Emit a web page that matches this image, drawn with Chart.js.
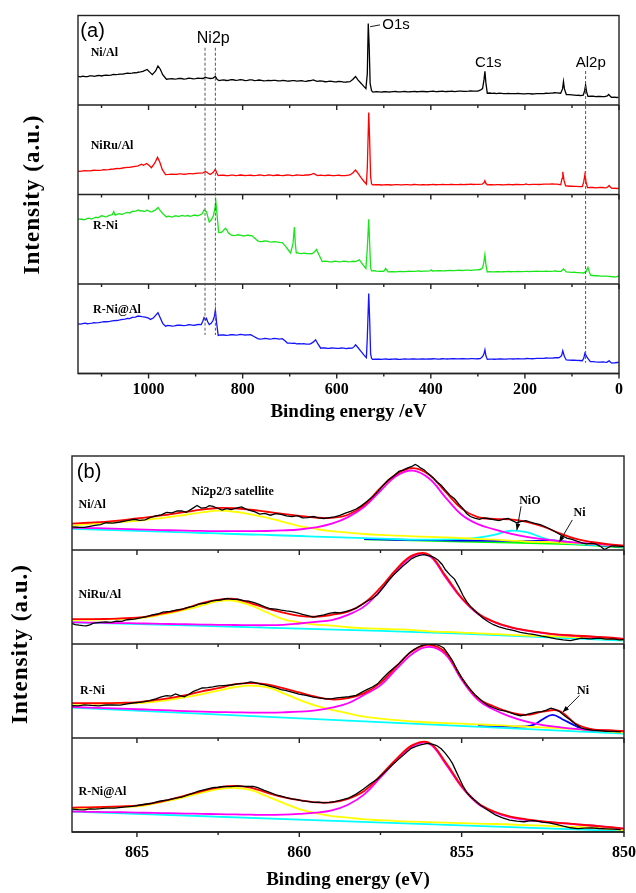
<!DOCTYPE html>
<html>
<head>
<meta charset="utf-8">
<script src="https://cdn.jsdelivr.net/npm/chart.js@4.4.1/dist/chart.umd.min.js"></script>
<style>
  html, body { margin: 0; padding: 0; background: #fff; }
  #wrap { position: relative; width: 636px; height: 893px; }
  canvas { position: absolute; left: 0; }
  #surveyChart { top: 0; }
  #ni2pChart { top: 440px; }
</style>
</head>
<body>
<div id="wrap">
  <canvas id="surveyChart" width="636" height="440"></canvas>
  <canvas id="ni2pChart" width="636" height="453"></canvas>
</div>
<script>
// ---- (a) survey spectra: [binding energy eV, intensity in % of its strip] ----
const surveyNiAl = [
  [1150,31.9],[1145,31.5],[1140,32.3],[1135,31.6],[1130,31.8],[1125,32.5],[1120,32.6],[1115,32.1],[1110,32.7],[1105,33.1],
  [1100,32.4],[1095,33],[1090,33.3],[1085,33],[1080,33.5],[1075,34.1],[1070,33.9],[1065,34.2],[1060,34.6],[1055,34.4],
  [1050,35],[1045,35.6],[1040,35.3],[1035,35.7],[1030,36.2],[1026,35.9],[1022,36.6],[1017,36.9],[1012,37.5],[1003,39.7],
  [997,36.5],[992,33.9],[985,38],[980,43.6],[975,40],[970,33.9],[962,28.8],[956,29.3],[950,29.5],[945,29],
  [940,29.1],[935,29.7],[930,29.6],[925,29],[920,29.2],[915,29.9],[910,29.8],[905,29.2],[900,29.4],[895,30],
  [890,29.8],[884,29.6],[880,31.1],[875,30.2],[869,29.6],[863,30],[858,31.9],[854,28.5],[850,27.2],[845,27.9],
  [840,28],[835,27.4],[830,27.6],[825,28.3],[820,28.2],[815,27.6],[810,27.8],[805,28.3],[800,28],[795,27.3],
  [790,27.5],[785,28.1],[780,28],[775,27.2],[770,27.4],[765,27.9],[760,27.6],[755,27],[750,27.2],[745,27.6],
  [740,27.2],[735,27.6],[730,27.5],[725,26.9],[720,27],[715,27.5],[710,27.3],[705,26.7],[700,26.8],[695,27.3],
  [690,27.2],[685,26.6],[680,26.9],[675,27.2],[670,26.7],[665,26.5],[660,27.1],[655,27.3],[650,28],[642,26.5],
  [636,26.9],[630,26.6],[625,26],[620,26.2],[615,26.6],[610,26.4],[605,25.9],[600,26],[595,26.4],[590,26.1],
  [585,25.6],[580,25.7],[572,26],[566,28.5],[560,31.9],[555,28],[548,24.1],[542,20.5],[538,18.3],[535,35],
  [533,91],[531,65],[529,24],[526,16],[523,14.4],[516,14.9],[510,14.6],[505,14.4],[500,14.8],[495,15],
  [490,14.5],[485,14.6],[480,14.9],[475,15.1],[470,14.7],[465,14.6],[460,15],[455,15.1],[450,14.7],[445,14.8],
  [440,15],[435,15.2],[430,14.8],[425,14.9],[420,15.1],[415,15.3],[410,14.8],[405,14.9],[400,15.2],[395,15.4],
  [390,15],[385,15.1],[380,15.3],[375,15.5],[370,15],[365,15.1],[360,15.2],[355,15.5],[350,15],[345,15.2],
  [340,15.4],[335,15.6],[330,15.2],[325,15.3],[320,15.5],[315,15.8],[310,15.4],[305,15.5],[300,15.6],[295,16.5],
  [290,18.3],[287,28],[285,37.7],[283,25],[280,13.2],[275,13.4],[270,13],[265,13.1],[260,12.8],[255,13.2],
  [250,13],[245,12.8],[240,12.7],[235,13],[230,12.8],[225,12.6],[220,12.6],[215,12.9],[210,12.7],[205,12.4],
  [200,12.5],[195,12.8],[190,12.6],[185,12.3],[180,12.4],[175,12.8],[170,12.6],[165,12.7],[160,12.8],[155,13.1],
  [150,13],[145,13.2],[140,13.4],[136,13.8],[132,13.6],[124,13.2],[120,18],[118,26.1],[116,18],[112,11.7],
  [106,11.5],[100,11.2],[95,11],[90,10.8],[86,10.9],[82,10.5],[76,11],[73,16],[71,22.2],[69,15],
  [66,9.7],[60,10],[55,9.8],[50,9.4],[45,9.5],[40,9.6],[35,9.3],[30,9.3],[25,10.2],[22,11.7],
  [19,10],[16,8.6],[10,8.8],[5,8.4],[1,8.6]
];
const surveyNiRuAl = [
  [1150,26.2],[1145,25.8],[1140,26.4],[1135,26.7],[1130,26.3],[1125,26.5],[1120,26.8],[1115,27.2],[1111,26.9],[1105,27],
  [1100,27.3],[1095,27.8],[1090,27.6],[1085,27.8],[1080,28.2],[1074,28.5],[1067,29.2],[1061,29],[1055,29.6],[1050,30.1],
  [1045,30.3],[1040,30.2],[1035,30.8],[1028,31.5],[1022,31.9],[1015,33.8],[1011,32.6],[1004,34.6],[998,32],[994,30],
  [987,35],[981,41.5],[976,36],[971,28],[964,22.3],[957,22.5],[950,22.8],[945,22.4],[940,22.6],[935,23.1],
  [930,23],[925,22.6],[920,22.8],[915,23.3],[910,23.4],[905,23],[900,23.5],[895,23.9],[890,23.8],[884,24.2],
  [879,25.8],[874,24],[869,22.3],[863,24.5],[858,28.1],[855,24],[852,21.2],[846,21.7],[840,21.5],[835,21.1],
  [830,21.2],[825,21.7],[820,21.6],[815,21.1],[810,21.3],[805,21.8],[800,21.5],[795,21.1],[790,21.4],[783,21.5],
  [777,21.1],[770,21.3],[765,21.8],[760,21.6],[755,21.2],[750,21.4],[745,21.9],[740,21.7],[735,21.2],[730,21.5],
  [725,21.8],[720,21.4],[715,21.1],[709,21.5],[704,21.9],[700,21.6],[695,21.2],[690,21.3],[685,21.8],[680,21.7],
  [675,21.3],[670,21.5],[665,22],[660,21.8],[654,22.5],[649,23.5],[644,22],[640,21.2],[635,21.6],[630,21.3],
  [625,21],[620,21.5],[615,21.6],[610,21.2],[605,21],[600,21.4],[595,21.5],[590,21.2],[582,21.2],[572,21.8],
  [566,24],[560,27.3],[555,24],[548,18.5],[542,14.5],[537,11.5],[535,30],[532,91.5],[530,60],[528,20],
  [526,12],[524,10.8],[517,11.1],[510,10.9],[505,10.6],[500,10.7],[495,11],[490,10.9],[485,10.6],[480,10.8],
  [475,11.1],[470,11],[465,10.7],[460,10.8],[455,11.1],[450,11],[445,10.8],[440,10.9],[435,11.2],[430,11.1],
  [425,10.8],[420,10.9],[415,11.1],[410,10.8],[405,10.9],[400,11],[395,11.2],[390,10.9],[385,11],[380,11.1],
  [375,11.3],[370,11],[365,11.1],[360,11.2],[355,11.4],[350,11],[345,11.1],[340,11.2],[335,11.4],[330,11.1],
  [325,11.2],[320,11.3],[315,11.5],[310,11.2],[305,11.3],[300,11.4],[291,11.5],[287,13],[285,15.4],[283,12.5],
  [280,10.8],[275,11],[270,10.9],[265,10.8],[260,11],[255,11.1],[250,10.9],[245,10.8],[240,11.1],[235,11.2],
  [230,11],[225,10.9],[220,11.2],[215,11.3],[210,11.1],[205,11],[200,11.3],[198,11.8],[195,11.2],[190,11],
  [185,11.2],[180,11.4],[175,11.3],[170,11.2],[165,11.4],[160,11.6],[155,11.6],[148,11.7],[142,11.9],[137,11.7],
  [132,11.5],[124,10.8],[121,18],[119.5,25.4],[117,16],[113.5,9.6],[109,9.5],[105,9.2],[100,9.3],[95,9],
  [90,9.1],[85,8.9],[78,8.8],[75,14],[72.5,22.3],[70,14],[67,7.7],[61,8],[55,7.8],[50,7.5],
  [45,7.7],[40,7.9],[35,7.8],[30,7.5],[26,7.7],[23,9],[21,10],[18,8],[15,6.9],[8,7],
  [4,6.7],[0,6.9]
];
const surveyRNi = [
  [1150,73],[1146,72.2],[1142,72.6],[1138,71.8],[1134,72.3],[1130,73.4],[1126,73.5],[1122,72.6],[1118,73.2],[1115,74],
  [1112,74.6],[1108,74],[1104,75],[1100,76.2],[1096,75.8],[1092,75],[1088,75.4],[1085,76.5],[1082,76.9],[1077,77.5],
  [1074,80.8],[1071,77],[1067,77.7],[1063,78.6],[1060,78.2],[1056,77.8],[1052,78.8],[1048,79.6],[1044,80],[1040,79.4],
  [1036,80.6],[1033,81.4],[1030,81.2],[1026,81.8],[1022,82.7],[1018,81.6],[1014,82],[1010,81],[1007,81.5],[1003,82.4],
  [1000,81.8],[996,80.6],[992,80.8],[986,82.5],[980,85.4],[975,82],[970,78.8],[962,75],[958,75.9],[955,75.6],
  [951,74.8],[948,75.2],[944,76.1],[940,76],[936,75.4],[932,76.2],[928,76.6],[924,75.8],[920,76.2],[916,76.5],
  [912,75.6],[908,76.2],[904,77],[900,76.8],[896,76.2],[892,76.9],[886,78.5],[882,82.7],[877,80.8],[874,75],
  [871,69.2],[866,72],[862,76.9],[859,84],[857,92.3],[854,75],[851,57.7],[847,57.5],[843,58.5],[839,61],
  [836,62.3],[830,57],[824,54.6],[819,54.1],[815,54.3],[810,55],[805,54.6],[800,53.9],[795,53.8],[790,54.6],
  [785,54.2],[780,53.8],[774,51],[768,48.1],[763,47.3],[758,47.5],[753,48.2],[748,47.8],[743,47],[738,46.8],
  [733,47.4],[728,47],[722,46.4],[716,46.2],[709,42.3],[703,38],[698,34.6],[693,45],[690,63.5],[688,45],
  [686,34.6],[683,34.9],[680,34.2],[675,34],[670,34.4],[665,34.1],[660,33.9],[653,33.8],[648,35.5],[643,38.5],
  [638,33],[631,25],[625,25.6],[620,25.3],[615,24.7],[610,24.8],[605,25.4],[600,25.2],[595,24.7],[590,24.9],
  [585,25.5],[580,25.3],[575,24.8],[570,25],[565,25.4],[560,25],[552,26.9],[545,22],[538,17.3],[535,40],
  [532,72.3],[530,45],[528,18],[526,14.6],[520,14.8],[515,14.4],[510,14.1],[505,14.3],[500,14.2],[496,17.3],
  [491,13.5],[485,13.9],[480,13.7],[475,13.5],[470,13.9],[465,14.1],[460,13.8],[455,13.9],[450,14.1],[445,14.3],
  [440,14],[435,14.1],[430,14.3],[425,14.5],[420,14.2],[415,14.3],[410,14.4],[402,14.6],[399,15.8],[396,14.5],
  [390,14.6],[385,14.8],[380,15],[375,14.7],[370,14.8],[365,15],[360,15.2],[355,14.9],[350,15],[345,15.2],
  [340,15.4],[335,15.1],[330,15.2],[325,15.4],[320,15.6],[315,15.3],[310,15.5],[305,15.7],[300,15.9],[295,16.2],
  [290,18],[287,25],[285,32.7],[283,22],[280,13.5],[275,13.8],[270,13.6],[265,13.5],[260,13.7],[255,13.9],
  [250,13.6],[245,13.7],[240,13.8],[235,14],[230,13.7],[225,13.8],[220,13.9],[215,14.1],[210,13.8],[205,13.9],
  [200,14],[195,14.2],[190,13.9],[185,14],[180,14.1],[175,14.3],[170,14],[165,14.1],[160,14.2],[155,14.4],
  [150,14.1],[145,14.2],[140,14.3],[135,14.5],[130,14.2],[123,14.2],[118,16.9],[112,13.5],[106,13.3],[100,13],
  [95,13.1],[90,12.7],[85,12.6],[80,12.4],[75,12.3],[70,14],[66,18.5],[63,13],[60,9.6],[55,9.5],
  [50,9.2],[45,9.3],[40,8.9],[35,8.8],[30,8.7],[26,8.9],[22.5,8.5],[18,8.4],[15,8],[11,8.2],
  [7.6,7.7],[3,8.5],[0,9.6]
];
const surveyRNiAl = [
  [1150,55.5],[1145,55.2],[1140,55.8],[1135,56.2],[1130,55.6],[1125,55.9],[1120,56.3],[1116,56.9],[1112,56.6],[1106,56.8],
  [1100,57.3],[1095,57.9],[1090,57.8],[1085,57.9],[1080,58.4],[1074,59.1],[1067,59.2],[1061,59.8],[1055,60.5],[1050,60.8],
  [1045,61.6],[1040,61.4],[1035,62.6],[1028,63.1],[1022,64.2],[1014,63.5],[1007,63],[1000,61.8],[996,60.4],[990,62],
  [985,65],[980,67.9],[975,62],[970,56],[964,52.8],[960,53.6],[955,53.4],[950,52.9],[945,53.2],[939,53.9],
  [933,54],[926,53.5],[920,53.8],[915,54.5],[910,54.3],[905,53.8],[900,54.2],[894,54.9],[888,54.7],[885,58],
  [882,62.3],[879,60],[877,61.5],[874,57.5],[871,54.7],[867,56],[863,59.2],[860,64],[858,70.6],[855,55],
  [852,42.6],[846,43.2],[840,43],[835,42.6],[830,42.8],[825,43.3],[820,43.4],[815,42.9],[810,43.1],[805,43.6],
  [800,43.5],[795,43],[790,43.2],[783,43.4],[775,41],[768,38.9],[763,38.4],[758,38.6],[753,39.2],[748,39],
  [743,38.5],[738,38.7],[733,39.2],[728,38.9],[722,38.5],[716,38.9],[710,36.5],[705,34],[700,33.9],[695,33.6],
  [690,33.9],[685,33.2],[680,33.4],[675,33],[670,33.3],[665,32.9],[657,32.8],[650,35],[645,37.7],[640,33],
  [634,28.3],[630,28.7],[625,28.5],[620,28],[615,28.2],[610,28.6],[605,28.4],[600,28],[595,28.1],[590,28.5],
  [585,28.3],[580,27.9],[575,28.2],[567,28.3],[563,30],[560,32.1],[555,29],[548,24.5],[542,20.5],[537,17.7],
  [535,40],[532,89.4],[530,60],[528,22],[526,17],[524,15.8],[517,16.1],[510,15.9],[505,15.7],[500,16],
  [495,16.2],[490,15.8],[485,15.9],[480,16],[475,16.2],[470,15.9],[465,15.8],[460,16.1],[455,16.3],[450,16],
  [445,16],[440,16.2],[435,16.4],[430,16.1],[425,16],[420,16.2],[415,16.4],[410,16.1],[405,16.2],[399,16.2],
  [395,16.5],[390,16.3],[385,16.1],[380,16.2],[375,16.5],[370,16.4],[365,16.2],[360,16.3],[355,16.6],[350,16.5],
  [345,16.3],[340,16.4],[335,16.7],[330,16.5],[325,16.3],[320,16.4],[315,16.7],[310,16.6],[305,16.4],[300,16.5],
  [295,16.6],[290,19],[287,22],[285,26.4],[283,20],[280,15.8],[275,16.1],[270,16],[265,15.9],[260,16.1],
  [255,16.3],[250,16.2],[245,16],[240,16.1],[235,16.4],[230,16.3],[225,16.2],[220,16.4],[215,16.6],[210,16.3],
  [205,16.4],[200,16.5],[195,16.8],[190,16.6],[185,16.5],[180,16.7],[175,17],[170,16.8],[165,16.8],[160,17],
  [155,17.3],[150,17.1],[145,17.1],[140,17.3],[135,17.7],[130,17.6],[127,17.7],[122,20],[119.5,25.3],[116,19],
  [112,15.1],[106,15],[100,14.8],[95,14.9],[90,14.6],[84,14.5],[78,14.3],[75,17],[72.5,22.6],[68.7,18.9],
  [65,16],[61,13.2],[55,13.2],[50,12.9],[45,12.8],[40,12.7],[35,12.9],[30,12.6],[26,12.5],[23,13.5],
  [21,14.3],[18,12.5],[15,11.7],[11,11.9],[8,12],[4,12.3],[0,12.5]
];

// ---- (b) Ni 2p fits: shared energy grid, one array per curve ----
const fitEnergy = [867,866.5,866,865.5,865,864.5,864,863.5,863,862.5,862,861.5,861,860.5,860,859.5,859,858.5,
  858,857.5,857,856.5,856,855.5,855,854.5,854,853.5,853,852.5,852,851.5,851,850.5,850];

const niAlEnvelope  = [28,29,30,31.5,33.5,35.5,38,40.5,43,44.7,44.4,42.8,40.7,38.5,36.4,34.5,34.2,37.5,48,66,81,87,80,62,44,35,33,32.5,30,25,18,12,8.5,6.2,4.7];
const niAlMain      = [23.6,23.3,23,22.5,22,21.5,21,20.6,20.3,20,20,20,20.2,20.8,21.8,24,28,35,46,63,79,84.5,76,56,37.5,27.5,22,17.5,14,11.5,9.5,8,6.8,5.5,4.4];
const niAlSatellite = [26,27.5,29,30,31,33,35,37.5,40,41.8,40.7,38,34.5,30,25.5,22.5,20,18.5,17,16,15.3,14.6,14,13.4,12.7,11.8,11,10,9,8.5,8,7.2,6.5,5,3.6];
const niAlNiO       = [22.5,22,21.4,20.9,20.3,19.8,19.2,18.7,18.1,17.6,17,16.5,16,15.4,14.9,14.3,13.8,13.2,12.7,12.1,11.6,11.1,11,11.2,11.8,13.2,16,20.5,19,13,8.4,6.5,5.5,4.6,3.6];
const niAlMetal     = [[858,11.6],[857,10.9],[856,10.5],[855,10.1],[854,9.8],[853,9.5],[852.5,10],[852.2,10.2],[851.8,9],[851.5,7],[851,5.5],[850.5,4.4],[850,3.4]];
const niAlBaseline  = [[858,11.4],[855,9],[852,6.5],[851,5],[850.5,3.8],[850,2.6]];
const niAlRaw = [
  [867,24.7],[866.8,24.2],[866.62,24],[866.45,25.1],[866.29,26.2],[866.12,27.1],[865.96,29],[865.74,28.6],[865.52,29.8],[865.3,31.2],
  [865.08,32.7],[864.92,31.6],[864.75,32],[864.58,34.6],[864.42,36.4],[864.25,37.4],[864.09,40],[863.92,39.6],[863.76,41.5],[863.62,41.7],
  [863.48,40],[863.32,43.5],[863.15,47.3],[863.02,44.6],[862.88,45],[862.77,47.2],[862.66,46.5],[862.52,44.4],[862.38,42.5],[862.24,44],
  [862.1,43],[861.94,44.6],[861.78,45.8],[861.64,43.4],[861.5,41.8],[861.36,40.6],[861.22,38.2],[861.06,38.9],[860.89,37],[860.72,38.6],
  [860.56,37.8],[860.4,36.2],[860.23,35.6],[860.06,36.5],[859.9,34.2],[859.74,34.4],[859.57,35.6],[859.4,34.1],[859.24,33.5],[859.08,34.5],
  [858.91,35.3],[858.75,36.8],[858.58,39.3],[858.42,41],[858.25,43.6],[858.08,47.2],[857.92,51.6],[857.75,56.5],[857.59,61.8],[857.42,68.6],
  [857.26,74.5],[857.1,78.4],[856.93,83.6],[856.8,84.9],[856.66,87.3],[856.55,88.6],[856.43,91],[856.35,89.6],[856.27,87.3],[856.16,85.4],
  [856.05,81.8],[855.9,77.5],[855.77,72.7],[855.63,68.9],[855.5,63.6],[855.36,58.2],[855.22,54.5],[855.08,48.4],[854.95,43.6],[854.84,38.6],
  [854.73,35.6],[854.6,34],[854.45,32.7],[854.32,34.2],[854.18,33.5],[854.02,32.2],[853.85,31.3],[853.7,32.8],[853.57,33.5],[853.44,31.2],
  [853.3,29],[853.16,30.4],[853.02,31.3],[852.88,29.6],[852.75,28.4],[852.58,26.9],[852.42,24.7],[852.25,21.8],[852.09,18.9],[851.92,15.4],
  [851.76,12.7],[851.6,11.2],[851.43,9.1],[851.28,7.4],[851.15,6.5],[851.02,7.1],[850.88,6.5],[850.74,4.2],[850.6,0.5],[850.5,2.4],
  [850.38,4.4],[850.2,4.1],[850,3.6]
];

const niRuEnvelope  = [26.5,26.5,26.6,27.2,28,30.5,33.8,38,43.6,47,48,43.6,38,33.5,30,29,31,34.5,43.6,60,80,94.5,95,72.7,49,32.7,23.6,18,14.5,12,10,9,8,7,5.5];
const niRuMain      = [23,22.8,22.5,22.2,22,21.6,21.3,21,20.7,20.4,20.2,20,20,20.4,21.8,23.5,25.5,31,40,57,78,93.5,94,71,48.4,32,23.3,17.8,14.2,11.6,9.8,8.6,7.6,6.5,5.5];
const niRuSatellite = [25.5,25.8,26.2,26.7,27.3,29.5,32.7,36.5,41,45.5,46,41,33.8,26.5,23,20.7,19.5,17.8,16.8,16.2,15.6,14.8,13.5,12.8,12.2,11.3,10.6,9.8,9,8.5,8,7.3,6.6,5.6,4.7];
const niRuBaseline  = [[867,23],[860,16.4],[855,11],[850,3.6]];
const niRuRaw = [
  [867,21.8],[866.9,20.6],[866.78,20],[866.67,19.6],[866.56,19.3],[866.45,20.4],[866.34,22.2],[866.15,22.9],[865.96,23.6],[865.8,23.1],
  [865.63,24.4],[865.47,24.1],[865.3,25.8],[865.08,26.5],[864.86,28],[864.7,29.2],[864.53,31],[864.37,31.9],[864.2,33.8],[863.98,34.6],
  [863.76,36.4],[863.6,37.2],[863.43,39],[863.26,40.1],[863.1,42.5],[862.88,43.6],[862.66,46.2],[862.44,46.8],[862.22,48.4],[862.05,47.5],
  [861.89,47.6],[861.72,46.2],[861.56,45.5],[861.39,43.9],[861.22,41.8],[861.06,39.5],[860.89,37.5],[860.72,37.1],[860.56,36],[860.4,35.2],
  [860.23,34.5],[860.06,33.2],[859.9,31.6],[859.74,30.3],[859.57,28.7],[859.4,29.9],[859.24,31],[859.08,32.6],[858.91,33.5],[858.75,33.1],
  [858.58,34.5],[858.42,35.9],[858.25,38.2],[858.08,41.7],[857.92,45.5],[857.75,48.4],[857.59,52.7],[857.42,60.1],[857.26,67.3],[857.1,73.4],
  [856.93,79],[856.8,83.2],[856.66,87.3],[856.55,90.6],[856.43,92.7],[856.3,94.3],[856.16,95],[856.05,94.1],[855.94,93.5],[855.83,91.7],
  [855.72,89],[855.6,84.6],[855.5,79],[855.36,73.5],[855.22,69],[855.08,60.2],[854.95,51],[854.84,44.8],[854.73,40],[854.62,36.1],
  [854.51,32.7],[854.35,27.6],[854.18,23.6],[854.02,20.5],[853.85,18.2],[853.63,16.2],[853.41,14.5],[853.19,12.4],[852.97,11],[852.75,9.9],
  [852.53,8.4],[852.31,7.1],[852.09,5.5],[851.87,4.3],[851.65,3.6],[851.48,4.8],[851.32,6.2],[851.04,5.4],[850.76,6.2],[850.55,5.2],
  [850.33,5.5],[850.15,4.4],[850,4.7]
];

const rNiEnvelope  = [37,37,37,37.4,38,40,42.4,45.5,49.6,53,57,58.3,57,53,48.5,44,41,42.4,47.8,58.6,76.6,92.8,99,91,64,42.4,33.5,27.3,24.5,28,29,15.5,9.4,8.3,7.2];
const rNiMain      = [33,32.4,31.8,31.2,30.6,30,29.3,28.6,28,27.6,27.3,27,27,27.3,28,29.5,32.4,37,46,56,73.7,90,97,89,62,40.6,30,22.7,17.3,13.7,11.5,9.7,8.6,7.8,7.2];
const rNiSatellite = [36.3,36.5,36.7,36.8,37,38.5,40.6,43.5,46.8,50.4,54,55.8,54,47.8,40.6,34.5,30,26.3,22.7,20.7,19,17.7,16.5,15.8,15.2,14.4,13.8,13,12,11.3,10.5,9.4,8.4,7.2,5.8];
const rNiBaseline  = [[867,32.4],[858.5,18.5],[850,4.7]];
const rNiMetal     = [[854.5,12.8],[854,12.3],[853.5,12],[853,12.4],[852.75,14.5],[852.5,20],[852.2,24.5],[851.9,20],[851.5,13],[851.2,8.3],[850.5,6.5],[850,5.5]];
const rNiRaw = [
  [867,34.5],[866.8,34.1],[866.62,35.3],[866.4,34.6],[866.18,34.2],[865.96,35.1],[865.74,35.3],[865.52,35],[865.3,36.3],[865.08,37.5],
  [864.86,38.1],[864.64,39.6],[864.42,41.7],[864.25,43.8],[864.09,45],[863.95,44.6],[863.81,46.8],[863.68,45.2],[863.54,43.9],[863.4,46.6],
  [863.26,49.6],[863.12,51.4],[862.99,53.2],[862.82,53.5],[862.66,54.3],[862.5,55.4],[862.33,55.8],[862.11,56.4],[861.89,57.6],[861.7,58.2],
  [861.5,59.7],[861.36,58.8],[861.22,57.6],[861.06,56.5],[860.89,55],[860.72,53.4],[860.56,51.4],[860.4,50.4],[860.23,48.9],[860.01,46.7],
  [859.79,45.3],[859.57,43.4],[859.35,42.4],[859.18,41.6],[859.02,41.7],[858.85,42.6],[858.69,43.2],[858.47,43.9],[858.25,45.3],[858.08,48.6],
  [857.92,51.4],[857.75,54.3],[857.59,57.6],[857.42,63.9],[857.26,69.4],[857.1,74.2],[856.93,79.1],[856.76,85.5],[856.6,91],[856.46,94.4],
  [856.32,97.1],[856.18,98.9],[856.05,100],[855.91,99.4],[855.77,99.3],[855.66,97.9],[855.55,95.7],[855.42,89.4],[855.28,82],[855.14,72.4],
  [855,64],[854.87,57.2],[854.73,51.4],[854.59,46.1],[854.45,41.7],[854.32,37.7],[854.18,34.5],[854.02,32.2],[853.85,29.9],[853.68,28.9],
  [853.52,27.3],[853.36,25.2],[853.19,23.7],[853.02,24.8],[852.86,26.3],[852.7,27.5],[852.53,28],[852.39,29.6],[852.25,31.7],[852.12,30.4],
  [851.98,28],[851.82,23.4],[851.65,19.1],[851.48,14.3],[851.32,10.8],[851.16,9.3],[850.99,8.3],[850.77,7.8],[850.55,7.2],[850.32,7],
  [850.1,6.5]
];

const rNiAlEnvelope  = [26,26.3,26.8,27.3,28,30.8,34.5,39,43.6,47.3,49,47.3,41.8,37,33.8,31.6,31.6,35.3,43.6,60,78,92.7,95,74.5,49,31,21.8,16.4,13.5,11.3,9.8,8.4,6.9,5.5,3.6];
const rNiAlMain      = [21.8,21.5,21.2,21,20.7,20.3,20,19.6,19.3,19,18.7,18.4,18.2,18.5,19.3,20.5,23,29,40,58,76.4,91.6,94,72.7,48,30,21,15.6,12.7,11,9.5,8.2,6.9,5.3,3.6];
const rNiAlSatellite = [25.5,25.8,26.3,26.8,27.3,30,33.5,37.5,41.8,45.5,47,44.7,38,31,24.4,20,17,15.2,13.5,12.5,11.6,11,10.5,10,9.5,9,8.5,8,7.3,6.7,6,5.5,4.8,3.5,1.8];
const rNiAlBaseline  = [[867,21.8],[850,1]];
const rNiAlRaw = [
  [867,24.4],[866.8,23.8],[866.62,23.6],[866.45,24.7],[866.29,24.4],[866.12,24.9],[865.96,25.5],[865.69,25.3],[865.41,26.5],[865.14,27.2],
  [864.86,29],[864.58,30.3],[864.31,32.7],[864.04,34.1],[863.76,36.4],[863.6,37.3],[863.43,39.6],[863.26,41.3],[863.1,43.6],[862.88,45.4],
  [862.66,47.3],[862.5,47.6],[862.33,48.4],[862.11,48.2],[861.89,49],[861.72,48.5],[861.56,48.4],[861.42,48.6],[861.28,47.3],[861.08,44.2],
  [860.89,41.8],[860.72,39.6],[860.56,38.2],[860.4,36.6],[860.23,35.3],[860.06,34.4],[859.9,33],[859.74,32.6],[859.57,31.6],[859.4,31.7],
  [859.24,31],[859.08,31.5],[858.91,32.4],[858.69,34.2],[858.47,36.4],[858.25,40.3],[858.03,45.5],[857.81,51.4],[857.59,56.4],[857.37,63.6],
  [857.15,71],[856.98,76.2],[856.82,81],[856.68,85.4],[856.55,89],[856.41,91.1],[856.27,92.7],[856.16,93.4],[856.05,94.2],[855.91,93.6],
  [855.77,92],[855.63,88.6],[855.5,83.6],[855.39,78.7],[855.28,72.7],[855.17,64.5],[855.06,56.4],[854.95,48.5],[854.84,41.8],[854.7,36.8],
  [854.56,32.7],[854.42,28.4],[854.29,25.5],[854.12,21.6],[853.96,18.2],[853.74,15.1],[853.52,12.7],[853.3,11.5],[853.08,10.9],[852.91,11.8],
  [852.75,12],[852.53,10.6],[852.31,9.8],[852.09,8.1],[851.87,6.2],[851.65,4.5],[851.43,3.6],[851.21,4.2],[850.99,4.4],[850.77,3.7],
  [850.55,3.3],[850.32,3],[850.1,2.5]
];

// ---- helpers ----
const serif = '"Liberation Serif", "Times New Roman", serif';
const sans = '"Liberation Sans", Arial, sans-serif';

function pairs(list) { return list.map(p => ({ x: p[0], y: p[1] })); }
function onGrid(values) { return values.map((v, i) => ({ x: fitEnergy[i], y: v })); }

function trace(data, color, axis, width, tension) {
  return {
    data: data, borderColor: color, borderWidth: width, yAxisID: axis,
    pointRadius: 0, fill: false, tension: tension || 0
  };
}

function stackAxes(ids) {
  const out = {};
  ids.forEach((id, i) => {
    out[id] = {
      type: 'linear', position: 'left', stack: 'strips', stackWeight: 1,
      weight: ids.length - i, min: 0, max: 100,
      ticks: { display: false },
      grid: { display: false, drawTicks: false },
      border: { display: false },
      afterFit: s => { s.width = 0; }
    };
  });
  return out;
}

// frame, strip dividers and tick marks (Origin style, ticks hang below every strip)
const framePlugin = {
  id: 'frame',
  afterDraw(chart, args, opts) {
    const { ctx, chartArea: a, scales } = chart;
    const xs = scales.x;
    ctx.save();
    ctx.strokeStyle = '#222';
    ctx.lineWidth = 1.4;
    ctx.strokeRect(a.left, a.top, a.right - a.left, a.bottom - a.top);
    opts.axes.forEach(id => {
      const s = scales[id];
      ctx.beginPath();
      ctx.moveTo(a.left, s.bottom);
      ctx.lineTo(a.right, s.bottom);
      ctx.stroke();
      xs.ticks.forEach(t => {
        if (t.value < xs.min || t.value > xs.max) return;
        const px = xs.getPixelForValue(t.value);
        const len = (t.value % opts.major === 0) ? 5 : 3;
        ctx.beginPath();
        ctx.moveTo(px, s.bottom);
        ctx.lineTo(px, s.bottom + len);
        ctx.stroke();
      });
    });
    ctx.restore();
  }
};

// y title, text labels, dashed guides, leaders and arrows
const notesPlugin = {
  id: 'notes',
  afterDraw(chart, args, opts) {
    const { ctx, chartArea: a, scales } = chart;
    const xs = scales.x;
    const px = e => xs.getPixelForValue(e);
    const py = (axis, v) => scales[axis].getPixelForValue(v);

    ctx.save();
    ctx.fillStyle = '#000';
    ctx.font = opts.yTitle.font;
    ctx.letterSpacing = opts.yTitle.spacing;
    ctx.textAlign = 'center';
    ctx.textBaseline = 'middle';
    ctx.translate(opts.yTitle.x, (a.top + a.bottom) / 2);
    ctx.rotate(-Math.PI / 2);
    ctx.fillText(opts.yTitle.text, 0, 0);
    ctx.restore();

    ctx.save();
    (opts.guides || []).forEach(g => {
      ctx.strokeStyle = '#555';
      ctx.lineWidth = 1;
      ctx.setLineDash([3, 2]);
      ctx.beginPath();
      ctx.moveTo(px(g.e), py(g.from[0], g.from[1]));
      ctx.lineTo(px(g.e), py(g.to[0], g.to[1]));
      ctx.stroke();
    });
    ctx.setLineDash([]);

    (opts.pointers || []).forEach(p => {
      const x1 = px(p.from[0]), y1 = py(p.axis, p.from[1]);
      const x2 = px(p.to[0]), y2 = py(p.axis, p.to[1]);
      ctx.strokeStyle = '#000';
      ctx.fillStyle = '#000';
      ctx.lineWidth = 0.9;
      ctx.beginPath();
      ctx.moveTo(x1, y1);
      ctx.lineTo(x2, y2);
      ctx.stroke();
      if (p.head) {
        const ang = Math.atan2(y2 - y1, x2 - x1);
        ctx.beginPath();
        ctx.moveTo(x2, y2);
        ctx.lineTo(x2 - 7 * Math.cos(ang - 0.35), y2 - 7 * Math.sin(ang - 0.35));
        ctx.lineTo(x2 - 7 * Math.cos(ang + 0.35), y2 - 7 * Math.sin(ang + 0.35));
        ctx.closePath();
        ctx.fill();
      }
    });

    (opts.labels || []).forEach(l => {
      ctx.fillStyle = '#000';
      ctx.font = l.font;
      ctx.textAlign = l.align || 'left';
      ctx.textBaseline = 'middle';
      ctx.fillText(l.text, px(l.e), py(l.axis, l.v));
    });
    ctx.restore();
  }
};

function xAxis(min, max, step, major, title, height, labelPad, titlePad) {
  return {
    type: 'linear', reverse: true, min: min, max: max,
    grid: { display: false, drawTicks: false },
    border: { display: false },
    ticks: {
      stepSize: step, includeBounds: false, autoSkip: false, maxRotation: 0,
      padding: labelPad, color: '#000',
      font: { family: serif, size: 16, weight: 'bold' },
      callback: v => (v % major === 0 ? String(v) : '')
    },
    title: {
      display: true, text: title, color: '#000',
      font: { family: serif, size: 19, weight: 'bold' },
      padding: { top: 0, bottom: titlePad }
    },
    afterFit: s => {
      s.height = height;
      s.paddingLeft = 0;
      s.paddingRight = 0;
    }
  };
}

const labelFont = 'bold 12px ' + serif;
const yTitleFont = 'bold 23px ' + serif;

// ---- chart (a) ----
const axesA = ['y0', 'y1', 'y2', 'y3'];
new Chart(document.getElementById('surveyChart'), {
  type: 'line',
  data: {
    datasets: [
      trace(pairs(surveyNiAl), '#000000', 'y0', 1.3),
      trace(pairs(surveyNiRuAl), '#ff0000', 'y1', 1.3),
      trace(pairs(surveyRNi), '#19e619', 'y2', 1.3),
      trace(pairs(surveyRNiAl), '#1414ff', 'y3', 1.3)
    ]
  },
  options: {
    responsive: false,
    animation: false,
    layout: { padding: { top: 15.5, left: 78, right: 17, bottom: 0 } },
    scales: Object.assign({ x: xAxis(0, 1150, 100, 200, 'Binding energy /eV', 66.5, 7, 17) }, stackAxes(axesA)),
    plugins: {
      legend: { display: false },
      tooltip: { enabled: false },
      frame: { axes: axesA, major: 200 },
      notes: {
        yTitle: { text: 'Intensity (a.u.)', x: 33, font: yTitleFont, spacing: '1px' },
        guides: [
          { e: 880, from: ['y0', 64], to: ['y3', 43] },
          { e: 858, from: ['y0', 64], to: ['y3', 43] },
          { e: 71, from: ['y0', 38], to: ['y3', 12] }
        ],
        pointers: [
          { axis: 'y0', from: [529, 87.5], to: [508, 89.5] }
        ],
        labels: [
          { text: '(a)', e: 1145, v: 82.5, axis: 'y0', font: '20px ' + sans },
          { text: 'Ni2p', e: 862.5, v: 74.7, axis: 'y0', font: '16px ' + sans, align: 'center' },
          { text: 'O1s', e: 474, v: 89.5, axis: 'y0', font: '15px ' + sans, align: 'center' },
          { text: 'C1s', e: 278, v: 46.7, axis: 'y0', font: '15px ' + sans, align: 'center' },
          { text: 'Al2p', e: 60, v: 46.7, axis: 'y0', font: '15px ' + sans, align: 'center' },
          { text: 'Ni/Al', e: 1123, v: 58.4, axis: 'y0', font: labelFont },
          { text: 'NiRu/Al', e: 1123, v: 53.8, axis: 'y1', font: labelFont },
          { text: 'R-Ni', e: 1118, v: 65.4, axis: 'y2', font: labelFont },
          { text: 'R-Ni@Al', e: 1118, v: 70.6, axis: 'y3', font: labelFont }
        ]
      }
    }
  },
  plugins: [framePlugin, notesPlugin]
});

// ---- chart (b) ----
const axesB = ['n0', 'n1', 'n2', 'n3'];
function fitSet(axis, raw, env, main, sat, base, extra) {
  const list = [
    trace(pairs(raw), '#000000', axis, 1.3),
    trace(onGrid(env), '#ff0000', axis, 1.8, 0.4),
    trace(onGrid(main), '#ff00ff', axis, 1.8, 0.4),
    trace(onGrid(sat), '#ffff00', axis, 1.8, 0.4),
    trace(base, '#00ffff', axis, 1.8, 0.4)
  ];
  extra.forEach(t => list.push(t));
  return list;
}

new Chart(document.getElementById('ni2pChart'), {
  type: 'line',
  data: {
    datasets: [].concat(
      fitSet('n0', niAlRaw, niAlEnvelope, niAlMain, niAlSatellite, onGrid(niAlNiO), [
        trace(pairs(niAlMetal), '#0000ff', 'n0', 1.8, 0.4),
        trace(pairs(niAlBaseline), '#00ff00', 'n0', 1.8, 0.3)
      ]),
      fitSet('n1', niRuRaw, niRuEnvelope, niRuMain, niRuSatellite, pairs(niRuBaseline), []),
      fitSet('n2', rNiRaw, rNiEnvelope, rNiMain, rNiSatellite, pairs(rNiBaseline), [
        trace(pairs(rNiMetal), '#0000ff', 'n2', 1.8, 0.4)
      ]),
      fitSet('n3', rNiAlRaw, rNiAlEnvelope, rNiAlMain, rNiAlSatellite, pairs(rNiAlBaseline), [])
    )
  },
  options: {
    responsive: false,
    animation: false,
    layout: { padding: { top: 16, left: 72, right: 12, bottom: 0 } },
    scales: Object.assign({ x: xAxis(850, 867, 2.5, 5, 'Binding energy (eV)', 61, 11, 2) }, stackAxes(axesB)),
    plugins: {
      legend: { display: false },
      tooltip: { enabled: false },
      frame: { axes: axesB, major: 5 },
      notes: {
        yTitle: { text: 'Intensity (a.u.)', x: 21, font: yTitleFont, spacing: '1px' },
        pointers: [
          { axis: 'n0', from: [853.17, 46.5], to: [853.3, 21], head: true },
          { axis: 'n0', from: [851.59, 32], to: [852.0, 8], head: true },
          { axis: 'n2', from: [851.37, 45.3], to: [851.89, 27.3], head: true }
        ],
        labels: [
          { text: '(b)', e: 866.85, v: 82, axis: 'n0', font: '20px ' + sans },
          { text: 'Ni2p2/3 satellite', e: 862.05, v: 62, axis: 'n0', font: labelFont, align: 'center' },
          { text: 'Ni/Al', e: 866.8, v: 48, axis: 'n0', font: labelFont },
          { text: 'NiO', e: 852.9, v: 52, axis: 'n0', font: labelFont, align: 'center' },
          { text: 'Ni', e: 851.37, v: 39, axis: 'n0', font: labelFont, align: 'center' },
          { text: 'NiRu/Al', e: 866.8, v: 52.7, axis: 'n1', font: labelFont },
          { text: 'R-Ni', e: 866.75, v: 50.4, axis: 'n2', font: labelFont },
          { text: 'Ni', e: 851.26, v: 50.4, axis: 'n2', font: labelFont, align: 'center' },
          { text: 'R-Ni@Al', e: 866.8, v: 42.5, axis: 'n3', font: labelFont }
        ]
      }
    }
  },
  plugins: [framePlugin, notesPlugin]
});
</script>
</body>
</html>
